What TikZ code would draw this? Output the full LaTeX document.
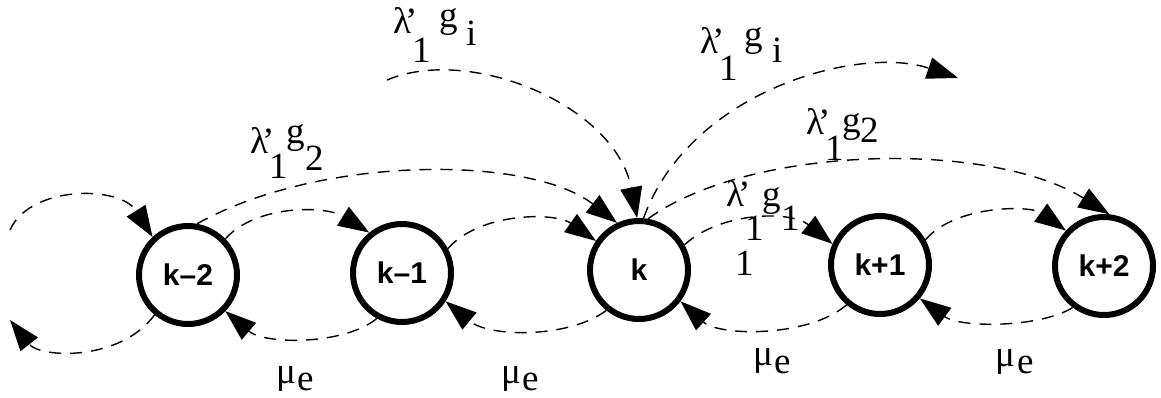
\documentclass[tikz,border=0pt]{standalone}
\usepackage{fontspec}
\setmainfont{Liberation Serif}
\newfontfamily\nodefont{Liberation Sans}
\usetikzlibrary{arrows.meta}
\begin{document}
\begin{tikzpicture}[x=1pt,y=-1pt,
  state/.style={circle, draw, line width=6pt, minimum size=98pt, inner sep=0pt,
    font=\nodefont\bfseries\fontsize{30}{34}\selectfont},
  flow/.style={dash pattern=on 12pt off 9pt, line width=1.4pt,
    -{Triangle[length=31pt,width=22pt]}},
  lab/.style={anchor=base west, inner sep=0pt, font=\fontsize{37}{40}\selectfont}]
\useasboundingbox (0,0) rectangle (1161,397);

% states
\node[state] (k2)  at (188,275) {k–2};
\node[state] (k1)  at (402,273) {k–1};
\node[state] (k)   at (639,270) {k};
\node[state] (kp1) at (880,265) {k+1};
\node[state] (kp2) at (1104,266) {k+2};

% free ends
\coordinate (in0)  at (10,230);
\coordinate (out0) at (10,320);
\coordinate (gin)  at (387,80);
\coordinate (gout) at (958,78);

% lower arcs (mu_e)
\draw[flow] (k2.230) .. controls (120,362) and (40,358) .. (out0);
\draw[flow] (k1.241) .. controls (345,345) and (265,345) .. (k2.316);
\draw[flow] (k.231) .. controls (570,338) and (490,338) .. (k1.327);
\draw[flow] (kp1.230) .. controls (810,337) and (720,337) .. (k.323);
\draw[flow] (kp2.233) .. controls (1040,328) and (960,328) .. (kp1.320);

% upper arcs
\draw[flow] (in0) .. controls (30,185) and (120,185) .. (k2.133);
\draw[flow] (k2.44) .. controls (255,205) and (325,205) .. (k1.129);
\draw[flow] (k1.28) .. controls (480,212) and (555,212) .. (k.146);
\draw[flow] (k.29) .. controls (720,212) and (790,210) .. (kp1.156);
\draw[flow] (kp1.29) .. controls (955,205) and (1030,205) .. (kp2.137);
\draw[flow] (k2.80) .. controls (320,155) and (530,155) .. (k.115);
\draw[flow] (k.80) .. controls (750,145) and (990,140) .. (kp2.84);
\draw[flow] (gin) .. controls (470,45) and (615,105) .. (k.92);
\draw[flow] (k.85) .. controls (690,90) and (860,45) .. (gout);

% labels: lambda'_1 g_i (in)
\node[lab] (a1) at (393,33) {λ\kern-6pt’};
\node[lab] (a2) at (412,62) {1};
\node[lab] (a3) at (439,27) {g};
\node[lab] (a4) at (466,45) {i};
% lambda'_1 g_i (out)
\node[lab] (b1) at (700,53) {λ\kern-6pt’};
\node[lab] (b2) at (719,80) {1};
\node[lab] (b3) at (744,46) {g};
\node[lab] (b4) at (772,62) {i};
% lambda'_1 g_2 (right)
\node[lab] (c1) at (806,134) {λ\kern-6pt’};
\node[lab] (c2) at (825,160) {1};
\node[lab] (c3) at (842,132) {g};
\node[lab] (c4) at (860,142) {2};
% lambda'_1 g_2 (left)
\node[lab] (d1) at (250,153) {λ\kern-6pt’};
\node[lab] (d2) at (269,178) {1};
\node[lab] (d3) at (286,143) {g};
\node[lab] (d4) at (305,170) {2};
% lambda'_1 g_1
\node[lab] (e1) at (726,206) {λ\kern-6pt’};
\node[lab] (e2) at (745,240) {1};
\node[lab] (e3) at (762,206) {g};
\node[lab] (e4) at (781,230) {1};
\node[lab] (e5) at (735,275) {1};

% mu_e labels
\node[lab] (m1) at (276,383) {μ};  \node[lab] (m1e) at (297,390) {e};
\node[lab] (m2) at (501,383) {μ};  \node[lab] (m2e) at (522,390) {e};
\node[lab] (m3) at (753,365) {μ};  \node[lab] (m3e) at (774,373) {e};
\node[lab] (m4) at (995,366) {μ};  \node[lab] (m4e) at (1017,373) {e};
\end{tikzpicture}
\end{document}
